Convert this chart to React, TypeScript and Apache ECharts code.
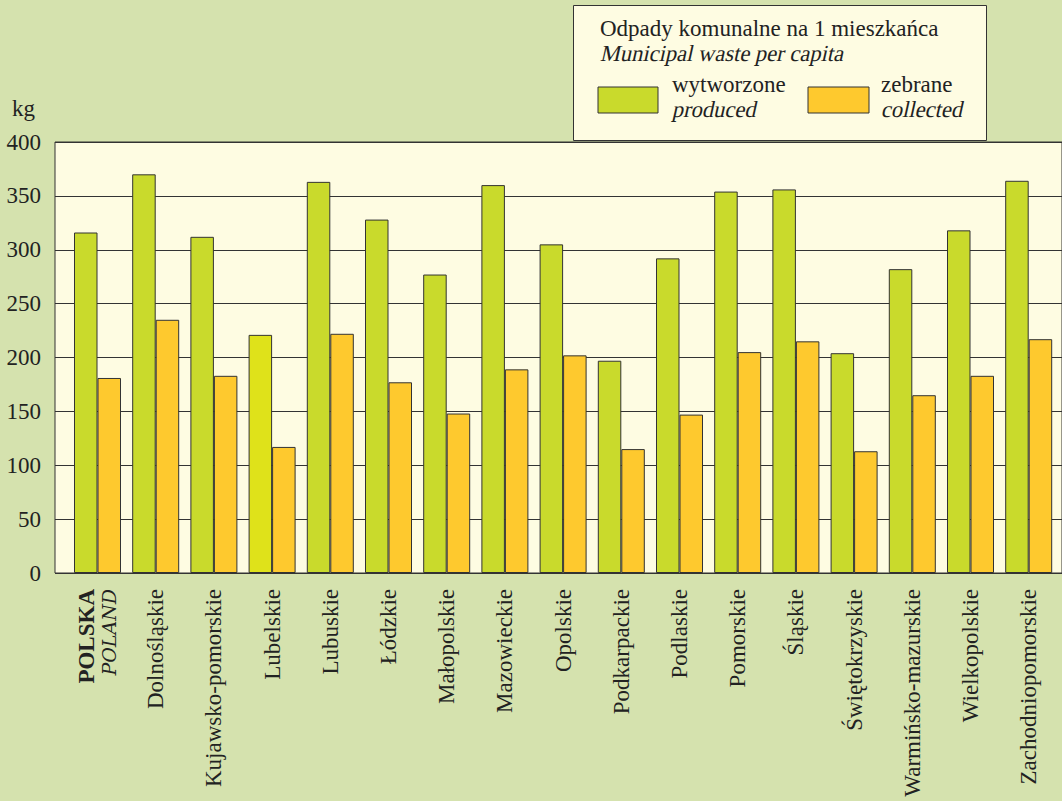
import React, { useEffect, useRef } from "react";
import * as echarts from "echarts";

const categories = [
  "POLSKA", "Dolnośląskie", "Kujawsko-pomorskie", "Lubelskie", "Lubuskie", "Łódzkie",
  "Małopolskie", "Mazowieckie", "Opolskie", "Podkarpackie", "Podlaskie", "Pomorskie",
  "Śląskie", "Świętokrzyskie", "Warmińsko-mazurskie", "Wielkopolskie", "Zachodniopomorskie",
];
const produced = [316, 370, 312, 221, 363, 328, 277, 360, 305, 197, 292, 354, 356, 204, 282, 318, 364];
const collected = [181, 235, 183, 117, 222, 177, 148, 189, 202, 115, 147, 205, 215, 113, 165, 183, 217];
const yTicks = { min: 0, max: 400, interval: 50 };

const FONT = "Liberation Serif";
const FS = 23;
const GREEN = "#c9da2c";
const GREEN_HL = "#dfe21a";
const ORANGE = "#fec92e";
const PANEL = "#fefce2";
const BG = "#d5e2ae";

export default function App() {
  const ref = useRef<HTMLDivElement>(null);
  useEffect(() => {
    if (!ref.current) return;
    const chart = echarts.init(ref.current, null, { renderer: "svg" });
    const txt = (text: string, x: number, y: number) => ({
      type: "text",
      x,
      y,
      z: 11,
      style: { text, fontFamily: FONT, fontSize: FS, fill: "#222" },
    });
    // faux italic: serif regular, slanted
    const itxt = (text: string, x: number, y: number) => ({
      type: "text",
      x: x + 4,
      y,
      z: 11,
      skewX: -0.22,
      scaleX: 0.98,
      style: { text, fontFamily: FONT, fontSize: FS, fill: "#222" },
    });
    chart.setOption({
      animation: false,
      backgroundColor: BG,
      textStyle: { fontFamily: FONT },
      grid: [
        { left: 55, top: 142, width: 1030, height: 431, show: true, backgroundColor: PANEL, borderColor: "#333", borderWidth: 1 },
        { left: 68.4, top: 142, width: 989.4, height: 431 },
      ],
      xAxis: [
        { gridIndex: 0, type: "value", show: false, min: 0, max: 1 },
        {
          gridIndex: 1,
          type: "category",
          data: categories,
          axisLine: { show: false },
          axisTick: { show: false },
          axisLabel: {
            rotate: 90,
            margin: 16,
            interval: 0,
            fontFamily: FONT,
            fontSize: FS,
            color: "#222",
            formatter: (v: string) => (v === "POLSKA" ? "{b|POLSKA}\n{i|POLAND}" : v),
            rich: {
              b: { fontFamily: FONT, fontSize: FS, fontWeight: "bold", color: "#222", lineHeight: 23 },
              i: { fontFamily: "DejaVu Serif", fontSize: 19, fontStyle: "italic", color: "#222", lineHeight: 23 },
            },
          },
        },
      ],
      yAxis: [
        {
          gridIndex: 0,
          type: "value",
          ...yTicks,
          axisLine: { show: false },
          axisTick: { show: false },
          axisLabel: { fontFamily: FONT, fontSize: FS, color: "#222", margin: 14 },
          splitLine: { lineStyle: { color: "#333", width: 1 } },
        },
        { gridIndex: 1, type: "value", ...yTicks, show: false, splitLine: { show: false } },
      ],
      series: [
        {
          name: "wytworzone",
          type: "bar",
          xAxisIndex: 1,
          yAxisIndex: 1,
          barWidth: 23.5,
          barGap: "0%",
          data: produced.map((v, i) =>
            categories[i] === "Lubelskie" ? { value: v, itemStyle: { color: GREEN_HL } } : v
          ),
          itemStyle: { color: GREEN, borderColor: "#333", borderWidth: 1 },
        },
        {
          name: "zebrane",
          type: "bar",
          xAxisIndex: 1,
          yAxisIndex: 1,
          barWidth: 23.5,
          barGap: "0%",
          data: collected,
          itemStyle: { color: ORANGE, borderColor: "#333", borderWidth: 1 },
        },
      ],
      graphic: [
        { type: "text", x: 12, y: 97, style: { text: "kg", fontFamily: FONT, fontSize: FS, fill: "#222" } },
        {
          type: "rect",
          shape: { x: 573.5, y: 5.5, width: 413, height: 135 },
          style: { fill: PANEL, stroke: "#333", lineWidth: 1 },
          z: 10,
        },
        txt("Odpady komunalne na 1 mieszkańca", 600, 17),
        itxt("Municipal waste per capita", 600, 42),
        { type: "rect", z: 11, shape: { x: 598, y: 87, width: 60, height: 26 }, style: { fill: GREEN, stroke: "#333", lineWidth: 1 } },
        txt("wytworzone", 672, 73),
        itxt("produced", 672, 98),
        { type: "rect", z: 11, shape: { x: 808, y: 87, width: 61, height: 26 }, style: { fill: ORANGE, stroke: "#333", lineWidth: 1 } },
        txt("zebrane", 881, 73),
        itxt("collected", 881, 98),
      ],
    });
    return () => chart.dispose();
  }, []);
  return (
    <div
      ref={ref}
      style={{ position: "absolute", left: 0, top: 0, width: 1062, height: 801 }}
    />
  );
}
